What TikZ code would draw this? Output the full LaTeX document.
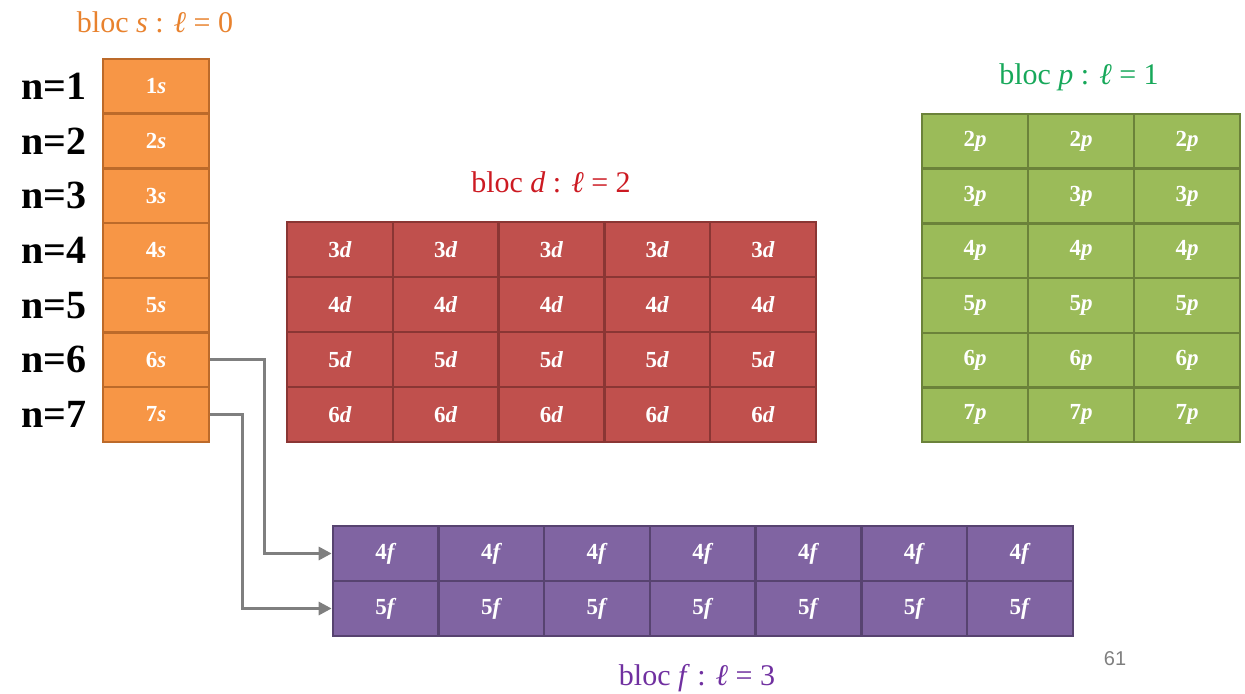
\documentclass[tikz,border=0pt]{standalone}
\usepackage{fontspec}
\setmainfont{Liberation Serif}
\newfontfamily\numfont{Liberation Sans}
\usetikzlibrary{arrows.meta}
\definecolor{sfill}{HTML}{F79646}
\definecolor{sdraw}{HTML}{BC6A2A}
\definecolor{dfill}{HTML}{C0504D}
\definecolor{ddraw}{HTML}{8A3634}
\definecolor{pfill}{HTML}{9BBB59}
\definecolor{pdraw}{HTML}{6B823A}
\definecolor{ffill}{HTML}{8064A2}
\definecolor{fdraw}{HTML}{574370}
\definecolor{stext}{HTML}{E8822E}
\definecolor{dtext}{HTML}{CC1A22}
\definecolor{ptext}{HTML}{17A85A}
\definecolor{ftext}{HTML}{7030A0}
\definecolor{conncol}{HTML}{7F7F7F}
\begin{document}
\begin{tikzpicture}[x=0.5pt,y=-0.5pt,
  cell/.style={draw, line width=1.2pt, minimum width=53pt, minimum height=27.4pt,
    inner sep=0pt, text=white, font=\fontsize{11.5}{13}\selectfont\bfseries},
  scell/.style={cell, fill=sfill, draw=sdraw},
  dcell/.style={cell, fill=dfill, draw=ddraw},
  pcell/.style={cell, fill=pfill, draw=pdraw},
  fcell/.style={cell, fill=ffill, draw=fdraw},
  blocl/.style={font=\fontsize{15}{18}\selectfont},
  nlab/.style={font=\fontsize{20}{23}\selectfont\bfseries, text=black},
  conn/.style={draw=conncol, line width=1.5pt, -{Triangle[length=6.5pt,width=6.5pt]}}
]
\useasboundingbox (0,0) rectangle (1245,694);
% s block
\foreach \n in {1,...,7}{
  \node[scell] (s\n) at (156,{59+27.35+54.7*(\n-1)}) {\n\textit{s}};
  \node[nlab] (n\n) at (54,{59+27.35+54.7*(\n-1)}) {n=\n};
}
% d block
\foreach \r [evaluate=\r as \nn using int(\r+2)] in {1,...,4}{
  \foreach \c in {1,...,5}{
    \node[dcell] (d\r\c) at ({287+52.9+105.8*(\c-1)},{222+27.5+55*(\r-1)}) {\nn\textit{d}};
  }
}
% p block
\foreach \r [evaluate=\r as \nn using int(\r+1)] in {1,...,6}{
  \foreach \c in {1,...,3}{
    \node[pcell] (p\r\c) at ({922+53+106*(\c-1)},{114+27.35+54.7*(\r-1)}) {\nn\textit{p}};
  }
}
% f block
\foreach \r [evaluate=\r as \nn using int(\r+3)] in {1,2}{
  \foreach \c in {1,...,7}{
    \node[fcell] (f\r\c) at ({333+52.85+105.7*(\c-1)},{526+27.5+55*(\r-1)}) {\nn\textit{f}};
  }
}
% labels
\node[blocl, text=stext] (ls) at (155,22) {bloc \textit{s} : \textit{ℓ} = 0};
\node[blocl, text=dtext] (ld) at (551,182) {bloc \textit{d} : \textit{ℓ} = 2};
\node[blocl, text=ptext] (lp) at (1079,77) {bloc \textit{p} : \textit{ℓ} = 1};
\node[blocl, text=ftext] (lf) at (697,678) {bloc \textit{f} : \textit{ℓ} = 3};
\node[font=\numfont\fontsize{10}{12}\selectfont, text=conncol] (pg) at (1115,659) {61};
% connectors
\draw[conn] (s6.east) -- ++(54,0) |- (f11.west);
\draw[conn] (s7.east) -- ++(32,0) |- (f21.west);
\end{tikzpicture}
\end{document}
